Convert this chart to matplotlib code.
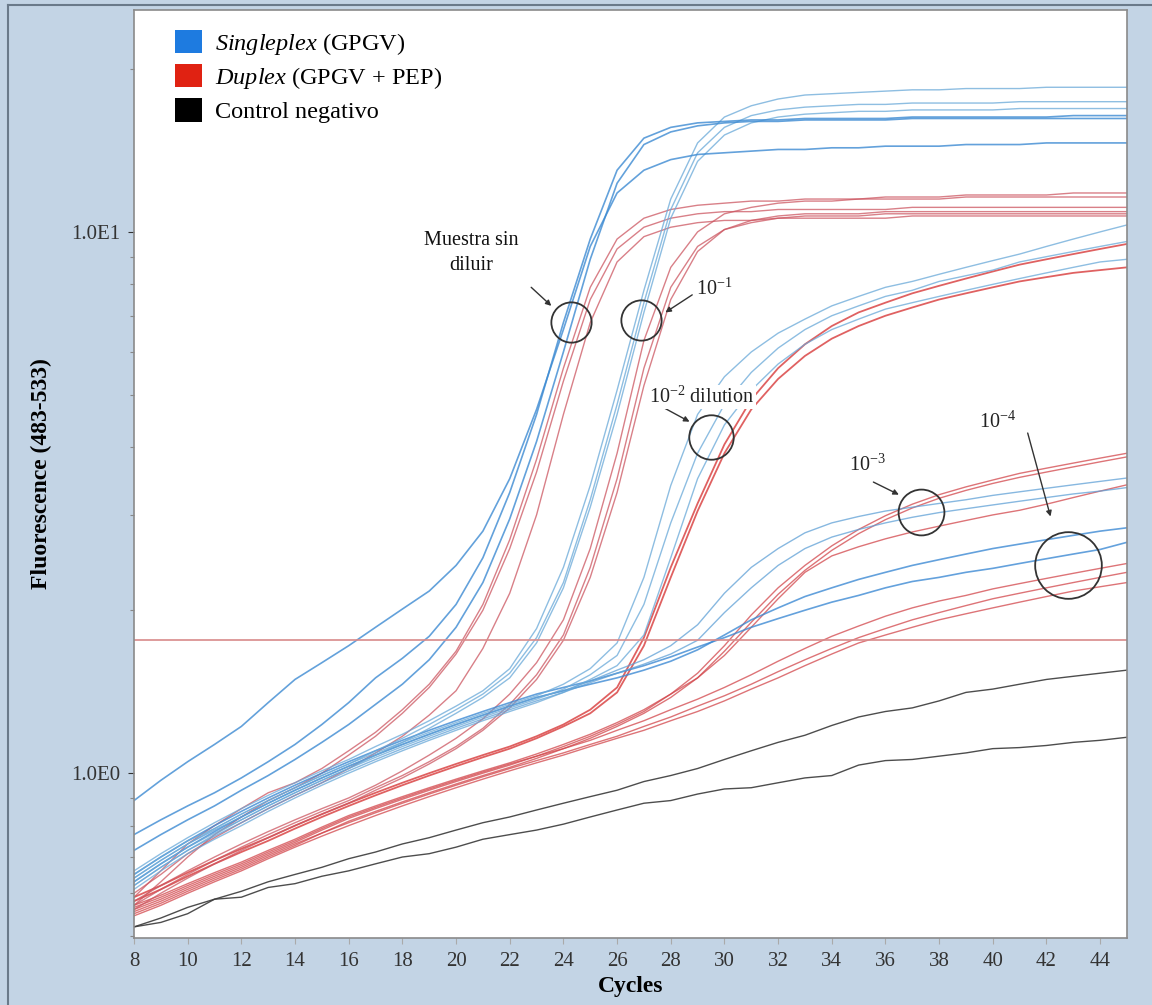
import matplotlib
matplotlib.use('Agg')
import matplotlib.pyplot as plt
from matplotlib.patches import Patch
from matplotlib.lines import Line2D

plt.rcParams['font.family'] = ['Liberation Serif', 'DejaVu Serif']
plt.rcParams['mathtext.fontset'] = 'custom'
plt.rcParams['mathtext.rm'] = 'Liberation Serif'
plt.rcParams['mathtext.it'] = 'Liberation Serif:italic'
plt.rcParams['mathtext.bf'] = 'Liberation Serif:bold'

# cycles 8..45, fluorescence
cycles = list(range(8, 46))

# Singleplex (GPGV) - blue
single_neat = [
	[0.89, 0.97, 1.05, 1.13, 1.22, 1.35, 1.49, 1.60, 1.72, 1.86, 2.01, 2.17, 2.42, 2.80, 3.5, 4.7,
	 6.6, 9.4, 11.8, 13.0, 13.6, 13.9, 14.0, 14.1, 14.2, 14.2, 14.3, 14.3, 14.4, 14.4, 14.4, 14.5, 14.5, 14.5, 14.6, 14.6, 14.6, 14.6],
	[0.77, 0.82, 0.87, 0.92, 0.98, 1.05, 1.13, 1.23, 1.35, 1.50, 1.63, 1.79, 2.05, 2.5, 3.3, 4.6,
	 6.8, 9.7, 13.0, 14.9, 15.6, 15.9, 16.0, 16.1, 16.1, 16.2, 16.2, 16.2, 16.2, 16.3, 16.3, 16.3, 16.3, 16.3, 16.3, 16.4, 16.4, 16.4],
	[0.72, 0.77, 0.82, 0.87, 0.93, 0.99, 1.06, 1.14, 1.23, 1.34, 1.46, 1.62, 1.86, 2.25, 2.95, 4.1,
	 6.0, 8.9, 12.3, 14.5, 15.3, 15.7, 15.9, 16.0, 16.0, 16.1, 16.1, 16.1, 16.1, 16.2, 16.2, 16.2, 16.2, 16.2, 16.2, 16.2, 16.2, 16.2],
]
single_d1 = [
	[0.66, 0.71, 0.76, 0.81, 0.86, 0.91, 0.96, 1.01, 1.06, 1.12, 1.18, 1.25, 1.33, 1.42, 1.56, 1.85,
	 2.4, 3.4, 5.1, 7.8, 11.5, 14.6, 16.3, 17.1, 17.6, 17.9, 18.0, 18.1, 18.2, 18.3, 18.3, 18.4, 18.4, 18.4, 18.5, 18.5, 18.5, 18.5],
	[0.64, 0.69, 0.74, 0.79, 0.84, 0.89, 0.94, 0.99, 1.04, 1.10, 1.16, 1.23, 1.31, 1.40, 1.53, 1.78,
	 2.25, 3.2, 4.8, 7.4, 11.0, 14.0, 15.6, 16.4, 16.8, 17.0, 17.1, 17.2, 17.2, 17.3, 17.3, 17.3, 17.3, 17.4, 17.4, 17.4, 17.4, 17.4],
	[0.62, 0.67, 0.72, 0.77, 0.82, 0.87, 0.92, 0.97, 1.02, 1.08, 1.14, 1.21, 1.29, 1.38, 1.50, 1.74,
	 2.2, 3.1, 4.6, 7.1, 10.6, 13.5, 15.1, 15.9, 16.3, 16.5, 16.6, 16.7, 16.7, 16.8, 16.8, 16.8, 16.8, 16.9, 16.9, 16.9, 16.9, 16.9],
]
single_d2 = [
	[0.65, 0.70, 0.75, 0.79, 0.84, 0.89, 0.94, 0.99, 1.04, 1.09, 1.14, 1.19, 1.24, 1.29, 1.34, 1.39,
	 1.46, 1.56, 1.74, 2.3, 3.4, 4.6, 5.4, 6.0, 6.5, 6.9, 7.3, 7.6, 7.9, 8.1, 8.35, 8.6, 8.85, 9.1, 9.4, 9.7, 10.0, 10.3],
	[0.63, 0.68, 0.73, 0.775, 0.82, 0.87, 0.92, 0.97, 1.02, 1.07, 1.12, 1.17, 1.22, 1.27, 1.32, 1.37,
	 1.43, 1.52, 1.65, 2.05, 2.9, 3.9, 4.8, 5.5, 6.1, 6.6, 7.0, 7.3, 7.6, 7.8, 8.1, 8.3, 8.5, 8.8, 9.0, 9.2, 9.4, 9.6],
	[0.61, 0.66, 0.71, 0.755, 0.80, 0.85, 0.90, 0.95, 1.00, 1.05, 1.10, 1.15, 1.20, 1.25, 1.30, 1.35,
	 1.41, 1.49, 1.58, 1.8, 2.5, 3.5, 4.4, 5.1, 5.7, 6.2, 6.6, 6.9, 7.2, 7.4, 7.6, 7.8, 8.0, 8.2, 8.4, 8.6, 8.8, 8.9],
]
single_d3 = [
	[0.64, 0.69, 0.74, 0.785, 0.83, 0.88, 0.93, 0.98, 1.03, 1.08, 1.13, 1.18, 1.23, 1.28, 1.33, 1.38,
	 1.42, 1.48, 1.55, 1.62, 1.72, 1.88, 2.15, 2.4, 2.6, 2.78, 2.9, 2.98, 3.05, 3.1, 3.15, 3.2, 3.26, 3.31, 3.36, 3.41, 3.46, 3.51],
	[0.62, 0.67, 0.72, 0.765, 0.81, 0.86, 0.91, 0.96, 1.01, 1.06, 1.11, 1.16, 1.21, 1.26, 1.31, 1.36,
	 1.41, 1.47, 1.53, 1.59, 1.66, 1.76, 1.98, 2.2, 2.42, 2.6, 2.73, 2.82, 2.9, 2.97, 3.03, 3.08, 3.13, 3.18, 3.23, 3.28, 3.32, 3.37],
]
single_d4 = [
	[0.65, 0.70, 0.75, 0.80, 0.85, 0.90, 0.95, 1.00, 1.05, 1.10, 1.15, 1.20, 1.25, 1.30, 1.35, 1.40,
	 1.44, 1.48, 1.53, 1.58, 1.64, 1.71, 1.78, 1.86, 1.93, 2.0, 2.07, 2.13, 2.2, 2.26, 2.3, 2.35, 2.39, 2.44, 2.49, 2.54, 2.59, 2.67],
	[0.63, 0.68, 0.73, 0.78, 0.83, 0.88, 0.93, 0.98, 1.03, 1.08, 1.13, 1.18, 1.23, 1.28, 1.33, 1.38,
	 1.42, 1.46, 1.50, 1.55, 1.61, 1.69, 1.8, 1.92, 2.02, 2.12, 2.2, 2.28, 2.35, 2.42, 2.48, 2.54, 2.6, 2.65, 2.7, 2.75, 2.8, 2.84],
]

# Duplex (GPGV + PEP) - red
duplex_neat = [
	[0.59, 0.66, 0.74, 0.80, 0.86, 0.92, 0.96, 1.02, 1.10, 1.19, 1.31, 1.46, 1.68, 2.05, 2.7, 3.8,
	 5.6, 7.9, 9.7, 10.6, 11.0, 11.2, 11.3, 11.4, 11.4, 11.5, 11.5, 11.5, 11.6, 11.6, 11.6, 11.7, 11.7, 11.7, 11.7, 11.8, 11.8, 11.8],
	[0.57, 0.63, 0.70, 0.77, 0.83, 0.89, 0.94, 1.00, 1.08, 1.17, 1.29, 1.44, 1.66, 2.0, 2.6, 3.6,
	 5.3, 7.5, 9.3, 10.2, 10.6, 10.8, 10.9, 10.9, 11.0, 11.0, 11.0, 11.0, 11.0, 11.1, 11.1, 11.1, 11.1, 11.1, 11.1, 11.1, 11.1, 11.1],
	[0.60, 0.65, 0.71, 0.76, 0.81, 0.86, 0.91, 0.96, 1.02, 1.09, 1.17, 1.28, 1.42, 1.70, 2.15, 3.0,
	 4.6, 6.8, 8.8, 9.8, 10.2, 10.4, 10.5, 10.5, 10.6, 10.6, 10.6, 10.6, 10.6, 10.7, 10.7, 10.7, 10.7, 10.7, 10.7, 10.7, 10.7, 10.7],
]
duplex_d1 = [
	[0.58, 0.62, 0.66, 0.70, 0.74, 0.78, 0.82, 0.86, 0.90, 0.95, 1.01, 1.08, 1.16, 1.26, 1.40, 1.60,
	 1.92, 2.6, 3.9, 6.3, 8.6, 10.0, 10.8, 11.1, 11.3, 11.4, 11.4, 11.5, 11.5, 11.5, 11.5, 11.6, 11.6, 11.6, 11.6, 11.6, 11.6, 11.6],
	[0.57, 0.61, 0.65, 0.69, 0.73, 0.77, 0.81, 0.85, 0.89, 0.94, 0.99, 1.05, 1.12, 1.21, 1.34, 1.52,
	 1.8, 2.4, 3.5, 5.6, 7.9, 9.4, 10.1, 10.4, 10.6, 10.7, 10.7, 10.7, 10.8, 10.8, 10.8, 10.8, 10.8, 10.8, 10.8, 10.8, 10.8, 10.8],
	[0.56, 0.60, 0.64, 0.68, 0.72, 0.76, 0.80, 0.84, 0.88, 0.93, 0.98, 1.04, 1.11, 1.20, 1.32, 1.49,
	 1.76, 2.3, 3.3, 5.2, 7.5, 9.2, 10.1, 10.5, 10.7, 10.8, 10.8, 10.8, 10.9, 10.9, 10.9, 10.9, 10.9, 10.9, 10.9, 10.9, 10.9, 10.9],
]
duplex_d2 = [
	[0.59, 0.62, 0.655, 0.69, 0.725, 0.76, 0.80, 0.84, 0.88, 0.92, 0.96, 1.0, 1.04, 1.08, 1.12, 1.17,
	 1.23, 1.31, 1.44, 1.78, 2.4, 3.15, 4.05, 4.9, 5.6, 6.2, 6.7, 7.1, 7.4, 7.7, 7.95, 8.2, 8.45, 8.7, 8.9, 9.1, 9.3, 9.5],
	[0.58, 0.61, 0.645, 0.68, 0.715, 0.75, 0.79, 0.83, 0.87, 0.91, 0.95, 0.99, 1.03, 1.07, 1.11, 1.16,
	 1.22, 1.29, 1.41, 1.72, 2.3, 3.05, 3.9, 4.7, 5.35, 5.9, 6.35, 6.7, 7.0, 7.25, 7.5, 7.7, 7.9, 8.1, 8.25, 8.4, 8.5, 8.6],
]
duplex_d3 = [
	[0.56, 0.585, 0.615, 0.645, 0.675, 0.71, 0.745, 0.785, 0.825, 0.86, 0.895, 0.93, 0.965, 1.0, 1.035, 1.075,
	 1.12, 1.17, 1.23, 1.30, 1.40, 1.53, 1.72, 1.96, 2.2, 2.42, 2.63, 2.82, 2.99, 3.14, 3.27, 3.38, 3.48, 3.58, 3.66, 3.74, 3.82, 3.9],
	[0.55, 0.575, 0.605, 0.635, 0.665, 0.70, 0.735, 0.775, 0.815, 0.85, 0.885, 0.92, 0.955, 0.99, 1.025, 1.065,
	 1.11, 1.16, 1.22, 1.29, 1.38, 1.50, 1.68, 1.9, 2.14, 2.37, 2.58, 2.77, 2.94, 3.09, 3.22, 3.33, 3.43, 3.52, 3.6, 3.68, 3.76, 3.84],
	[0.57, 0.595, 0.625, 0.655, 0.685, 0.72, 0.755, 0.795, 0.835, 0.87, 0.905, 0.94, 0.975, 1.01, 1.045, 1.085,
	 1.13, 1.18, 1.24, 1.31, 1.40, 1.50, 1.65, 1.86, 2.1, 2.35, 2.52, 2.62, 2.71, 2.79, 2.86, 2.93, 3.0, 3.06, 3.14, 3.23, 3.32, 3.41],
]
duplex_d4 = [
	[0.565, 0.59, 0.62, 0.65, 0.68, 0.715, 0.75, 0.79, 0.83, 0.865, 0.90, 0.935, 0.97, 1.005, 1.04, 1.075,
	 1.11, 1.15, 1.2, 1.25, 1.31, 1.37, 1.44, 1.52, 1.61, 1.7, 1.79, 1.87, 1.95, 2.02, 2.08, 2.13, 2.19, 2.24, 2.29, 2.34, 2.39, 2.44],
	[0.555, 0.58, 0.61, 0.64, 0.67, 0.705, 0.74, 0.775, 0.81, 0.845, 0.88, 0.915, 0.95, 0.985, 1.02, 1.055,
	 1.09, 1.13, 1.17, 1.22, 1.27, 1.33, 1.39, 1.46, 1.54, 1.62, 1.70, 1.78, 1.85, 1.92, 1.98, 2.04, 2.1, 2.15, 2.2, 2.25, 2.3, 2.35],
	[0.545, 0.57, 0.60, 0.63, 0.66, 0.695, 0.73, 0.765, 0.80, 0.835, 0.87, 0.905, 0.94, 0.975, 1.01, 1.045,
	 1.08, 1.12, 1.16, 1.2, 1.25, 1.3, 1.36, 1.43, 1.5, 1.58, 1.66, 1.74, 1.8, 1.86, 1.92, 1.97, 2.02, 2.07, 2.12, 2.17, 2.21, 2.25],
]

# negative controls - black
control_neg = [
	[0.52, 0.54, 0.565, 0.585, 0.605, 0.63, 0.65, 0.67, 0.695, 0.715, 0.74, 0.76, 0.785, 0.81, 0.83, 0.855,
	 0.88, 0.905, 0.93, 0.965, 0.99, 1.02, 1.06, 1.10, 1.14, 1.175, 1.225, 1.27, 1.30, 1.32, 1.36, 1.41, 1.43, 1.46, 1.49, 1.51, 1.53, 1.55],
	[0.52, 0.53, 0.55, 0.585, 0.59, 0.615, 0.625, 0.645, 0.66, 0.68, 0.70, 0.71, 0.73, 0.755, 0.77, 0.785,
	 0.805, 0.83, 0.855, 0.88, 0.89, 0.915, 0.935, 0.94, 0.96, 0.98, 0.99, 1.035, 1.055, 1.06, 1.075, 1.09, 1.11, 1.115, 1.125, 1.14, 1.15, 1.165],
]

threshold = 1.76

# dilution marks: label, text anchor, arrow tail, arrow head, circle centre, circle size
dilution_labels = ['Muestra sin\ndiluir', '10$^{-1}$', '10$^{-2}$ dilution', '10$^{-3}$', '10$^{-4}$']
label_pos = [(20.55, 9.15), (28.95, 7.85), (27.2, 4.95), (34.65, 3.7), (39.5, 4.45)]
arrow_from = [(22.8, 7.9), (28.8, 7.65), (27.75, 4.73), (35.55, 3.45), (41.3, 4.25)]
arrow_to = [(23.55, 7.3), (27.8, 7.1), (28.7, 4.46), (36.5, 3.27), (42.15, 2.98)]
circle_at = [(24.27, 6.82), (26.88, 6.87), (29.49, 4.18), (37.33, 3.04), (42.8, 2.42)]
circle_ms = [29, 29, 32, 33, 48]

def draw_group(ax, curves, color, lw=1.0, alpha=0.75):
	for c in curves:
		ax.plot(cycles, c, color=color, lw=lw, alpha=alpha, solid_joinstyle='round')

def main():
	fig = plt.figure(figsize=(11.52, 10.05), dpi=100)
	fig.patch.set_facecolor('#c3d4e5')
	ax = fig.add_axes([134/1152., 1-938/1005., (1127-134)/1152., (938-10)/1005.])
	ax.set_facecolor('white')

	draw_group(ax, control_neg, '#3a3a3a', lw=1.0, alpha=0.9)

	draw_group(ax, duplex_d4, '#d2454a')
	draw_group(ax, duplex_d3, '#d2454a')
	draw_group(ax, duplex_d2, '#d83a3a', lw=1.3, alpha=0.8)
	draw_group(ax, duplex_d1, '#cc5560')
	draw_group(ax, duplex_neat, '#cc5560')

	draw_group(ax, single_d4, '#3d8ad4', lw=1.2, alpha=0.8)
	draw_group(ax, single_d3, '#5fa0d6')
	draw_group(ax, single_d2, '#68a8d8')
	draw_group(ax, single_d1, '#68a8d8')
	draw_group(ax, single_neat, '#3c8ad2', lw=1.2, alpha=0.8)

	ax.axhline(threshold, color='#d88a8a', lw=1.2)

	for i in range(len(dilution_labels)):
		ax.plot(circle_at[i][0], circle_at[i][1], 'o', ms=circle_ms[i], mfc='none', mec='#333333', mew=1.3)
		ax.annotate('', xy=arrow_to[i], xytext=arrow_from[i],
			arrowprops=dict(arrowstyle='-|>', color='#333333', lw=1.0, mutation_scale=8, shrinkA=0, shrinkB=0))
		if i == 0:
			ax.text(label_pos[i][0], label_pos[i][1], dilution_labels[i], ha='center', va='center',
				fontsize=14.5, color='#111111', linespacing=1.45,
				bbox=dict(facecolor='white', edgecolor='none', pad=2))
		else:
			ax.text(label_pos[i][0], label_pos[i][1], dilution_labels[i], ha='left', va='center',
				fontsize=14.5, color='#222222',
				bbox=dict(facecolor='white', edgecolor='none', pad=1))

	ax.set_yscale('log')
	ax.set_xlim(8, 45)
	ax.set_ylim(0.496, 25.7)
	ax.set_xticks(list(range(8, 45, 2)))
	ax.set_yticks([1, 10])
	ax.set_yticklabels(['1.0E0', '1.0E1'])
	ax.yaxis.set_minor_locator(matplotlib.ticker.LogLocator(base=10, subs=range(2, 10)))
	ax.yaxis.set_minor_formatter(matplotlib.ticker.NullFormatter())
	ax.tick_params(axis='both', which='major', labelsize=15, colors='#333333', length=4, width=0.8, pad=6)
	ax.tick_params(axis='y', which='minor', length=3, width=0.8, color='#888888')
	ax.tick_params(axis='x', which='major', color='#aaaaaa')
	for sp in ax.spines.values():
		sp.set_color('#8a8a8a')
		sp.set_linewidth(1.2)

	ax.set_xlabel('Cycles', fontsize=17, fontweight='bold', labelpad=4)
	ax.set_ylabel('Fluorescence (483-533)', fontsize=17, fontweight='bold', labelpad=14)

	handles = [Patch(facecolor='#1e7be0', edgecolor='none'),
		Patch(facecolor='#e02212', edgecolor='none'),
		Patch(facecolor='#000000', edgecolor='none')]
	labels = [r'$\mathit{Singleplex}$ (GPGV)', r'$\mathit{Duplex}$ (GPGV + PEP)', 'Control negativo']
	ax.legend(handles, labels, loc='upper left', bbox_to_anchor=(0.024, 0.997), frameon=False,
		fontsize=17.5, handlelength=1.1, handleheight=1.1, handletextpad=0.55, labelspacing=0.3, borderpad=0.2)

	# thin frame around the figure
	fig.add_artist(Line2D([8/1152., 8/1152.], [0, 1-5/1005.], color='#6a7a8a', lw=1.5))
	fig.add_artist(Line2D([8/1152., 1], [1-5/1005., 1-5/1005.], color='#6a7a8a', lw=1.5))

	fig.savefig('out.png', dpi=100, facecolor=fig.get_facecolor())

if __name__ == "__main__":
	main()
